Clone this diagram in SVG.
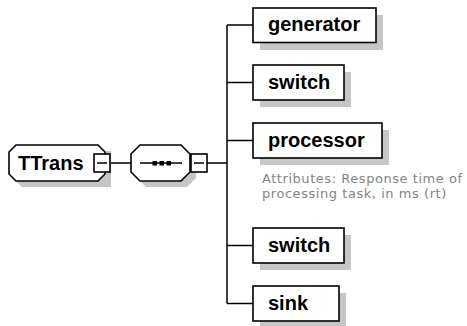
<svg xmlns="http://www.w3.org/2000/svg" width="467" height="326" viewBox="0 0 467 326">
  <style>
    .shadow { fill: #c6c6c6; stroke: none; }
    .box { fill: #ffffff; stroke: #000000; stroke-width: 1.6; }
    .wire { fill: none; stroke: #000000; stroke-width: 1.5; }
    .name { font-family: "Liberation Sans", Arial, sans-serif; font-weight: bold; font-size: 20px; fill: #000000; }
    .note { font-family: "DejaVu Sans", Verdana, sans-serif; font-size: 13px; letter-spacing: 0.55px; fill: #858585; }
  </style>

  <!-- connectors -->
  <g id="connectors">
    <line class="wire" x1="110" y1="163" x2="131" y2="163"/>
    <line class="wire" x1="207" y1="163" x2="227" y2="163"/>
    <line class="wire" x1="227" y1="25" x2="227" y2="303.5"/>
    <line class="wire" x1="227" y1="25" x2="253" y2="25"/>
    <line class="wire" x1="227" y1="82.5" x2="253" y2="82.5"/>
    <line class="wire" x1="227" y1="140.5" x2="253" y2="140.5"/>
    <line class="wire" x1="227" y1="245.5" x2="253" y2="245.5"/>
    <line class="wire" x1="227" y1="303.5" x2="253" y2="303.5"/>
  </g>

  <!-- complex type TTrans -->
  <g id="TTrans">
    <polygon class="shadow" points="22,151 111,151 111,187 22,187 15,180 15,158"/>
    <polygon class="box" points="16,145 98,145 105,152 105,174 98,181 16,181 9,174 9,152"/>
    <text class="name" x="18" y="169.5">TTrans</text>
    <rect class="box" x="94" y="154" width="16" height="18"/>
    <line class="wire" x1="97" y1="163" x2="107" y2="163"/>
  </g>

  <!-- sequence compositor -->
  <g id="sequence">
    <polygon class="shadow" points="146,151 187,151 196,160 196,178 187,187 146,187 137,178 137,160"/>
    <polygon class="box" points="140,145 181,145 190,154 190,172 181,181 140,181 131,172 131,154"/>
    <line class="wire" x1="140" y1="163" x2="182" y2="163"/>
    <rect x="152.5" y="161" width="4.5" height="4.5" fill="#000"/>
    <rect x="159.5" y="161" width="4.5" height="4.5" fill="#000"/>
    <rect x="166.5" y="161" width="4.5" height="4.5" fill="#000"/>
    <rect class="box" x="191" y="154" width="16" height="18"/>
    <line class="wire" x1="194" y1="163" x2="204" y2="163"/>
  </g>

  <!-- child elements -->
  <g id="generator">
    <rect class="shadow" x="260" y="15" width="123" height="35"/>
    <rect class="box" x="253" y="8" width="123" height="34.5"/>
    <text class="name" x="268" y="31">generator</text>
  </g>

  <g id="switch-1">
    <rect class="shadow" x="260" y="72" width="91" height="35"/>
    <rect class="box" x="253" y="65" width="91" height="35"/>
    <text class="name" x="268" y="88.5">switch</text>
  </g>

  <g id="processor">
    <rect class="shadow" x="260" y="130" width="129" height="35"/>
    <rect class="box" x="253" y="123" width="129" height="35"/>
    <text class="name" x="268" y="146.7">processor</text>
    <text class="note" x="262" y="183">Attributes: Response time of</text>
    <text class="note" x="262" y="197.5">processing task, in ms (rt)</text>
  </g>

  <g id="switch-2">
    <rect class="shadow" x="260" y="235" width="91" height="35"/>
    <rect class="box" x="253" y="228" width="91" height="35"/>
    <text class="name" x="268" y="251.5">switch</text>
  </g>

  <g id="sink">
    <rect class="shadow" x="260" y="293" width="86" height="35"/>
    <rect class="box" x="253" y="286" width="86" height="35"/>
    <text class="name" x="268" y="309.5">sink</text>
  </g>
</svg>
